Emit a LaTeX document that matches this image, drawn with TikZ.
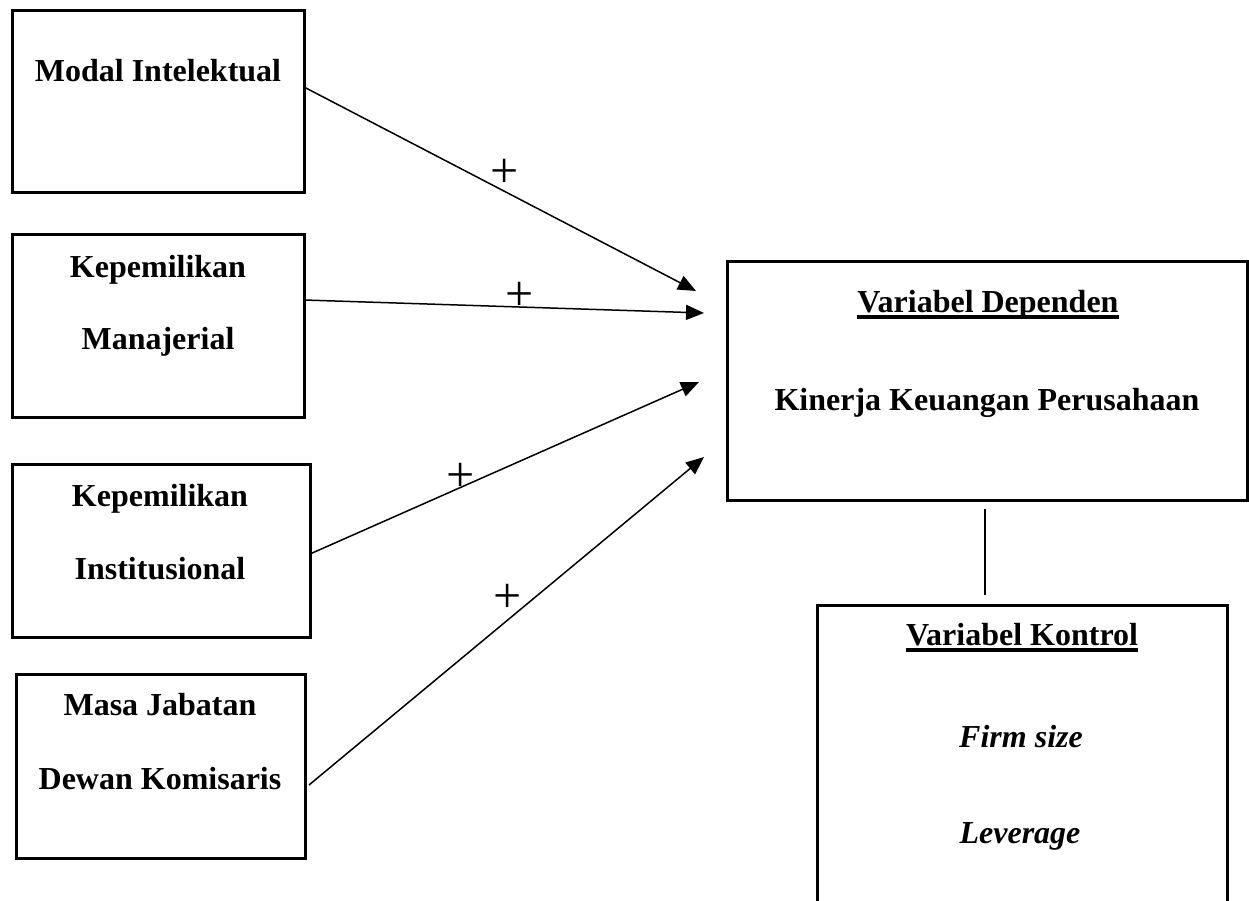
\documentclass[tikz,border=0pt]{standalone}
\usepackage{fontspec}
\setmainfont{Liberation Serif}
\usetikzlibrary{arrows.meta}
\newcommand\myul[1]{\setbox0\hbox{#1}\rlap{\rule[-6.5pt]{\wd0}{3.2pt}}\box0}
\begin{document}
\begin{tikzpicture}[x=1pt,y=-1pt,
  box/.style={draw, line width=3pt, inner sep=0pt, outer sep=0pt},
  lbl/.style={inner sep=0pt, anchor=base, font=\fontsize{32}{38}\selectfont\bfseries},
  ilbl/.style={inner sep=0pt, anchor=base, font=\fontsize{32}{38}\selectfont\bfseries\itshape},
  plussign/.style={inner sep=0pt, font=\fontsize{50}{52}\selectfont},
  arr/.style={line width=1.5pt, -{Triangle[length=18pt,width=15pt]}},
  conn/.style={line width=1.5pt}]
\useasboundingbox (0,0) rectangle (1249,901);
\clip (0,0) rectangle (1249,901);

% left boxes
\node[box, minimum width=292pt, minimum height=182pt] (b1) at (158,102) {};
\node[box, minimum width=292pt, minimum height=182pt] (b2) at (158,326) {};
\node[box, minimum width=298pt, minimum height=173pt] (b3) at (161,550.5) {};
\node[box, minimum width=289pt, minimum height=184pt] (b4) at (160.5,766) {};

\node[lbl] (t1) at (158,82) {Modal Intelektual};
\node[lbl] (t2a) at (158,277) {Kepemilikan};
\node[lbl] (t2b) at (158,349) {Manajerial};
\node[lbl] (t3a) at (160,506) {Kepemilikan};
\node[lbl] (t3b) at (160,579) {Institusional};
\node[lbl] (t4a) at (160,715) {Masa Jabatan};
\node[lbl] (t4b) at (160,789) {Dewan Komisaris};

% dependent box
\node[box, minimum width=520pt, minimum height=239pt] (dep) at (987,380.5) {};
\node[lbl] (td1) at (988,312) {\myul{Variabel Dependen}};
\node[lbl] (td2) at (987,410) {Kinerja Keuangan Perusahaan};

% control box
\node[box, minimum width=410pt, minimum height=320pt] (kon) at (1022,765) {};
\node[lbl] (tk1) at (1022,645) {\myul{Variabel Kontrol}};
\node[ilbl] (tk2) at (1021,747) {Firm size};
\node[ilbl] (tk3) at (1020,843) {Leverage};

% arrow ends
\coordinate (e1) at (696,291);
\coordinate (e2) at (704,313);
\coordinate (e3) at (699,382);
\coordinate (e4) at (704,457);

\draw[arr] ([yshift=15pt]b1.east) -- (e1);
\draw[arr] ([yshift=26pt]b2.east) -- (e2);
\draw[arr] ([yshift=-3.5pt]b3.east) -- (e3);
\draw[arr] ([xshift=4pt,yshift=-19pt]b4.east) -- (e4);

\node[plussign] (p1) at (505,173) {+};
\node[plussign] (p2) at (520,296) {+};
\node[plussign] (p3) at (461,477) {+};
\node[plussign] (p4) at (508,598) {+};

\coordinate (cx) at (985,0);
\draw[conn, shorten <=9pt, shorten >=10pt] (cx |- dep.south) -- (cx |- kon.north);
\end{tikzpicture}
\end{document}
